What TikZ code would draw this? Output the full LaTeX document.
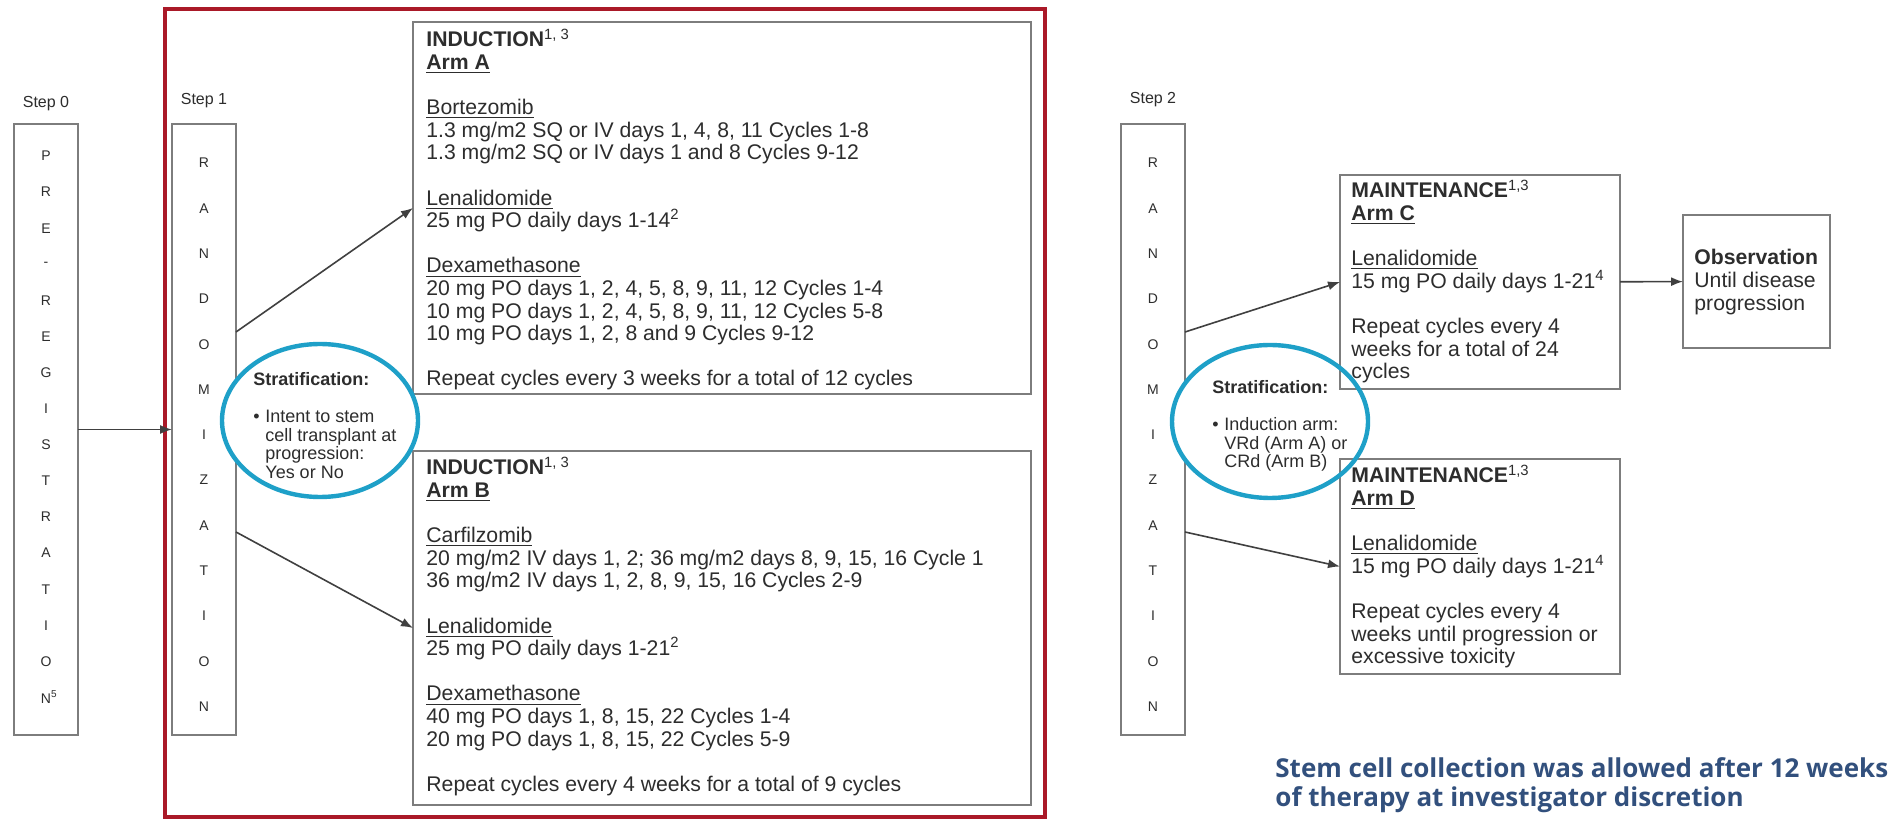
\documentclass[tikz,border=0pt]{standalone}
\usepackage{fontspec}
\setmainfont{Liberation Sans}
\newfontfamily\notefont{Open Sans}
\usetikzlibrary{shapes.geometric,arrows.meta}
\definecolor{framered}{RGB}{170,25,40}
\definecolor{ellcol}{RGB}{30,160,200}
\definecolor{boxgray}{RGB}{125,125,125}
\definecolor{txtcol}{RGB}{45,45,45}
\definecolor{notecol}{RGB}{50,80,125}
\newcommand\bxfont{\fontsize{10.6}{11.3}\selectfont}
\newcommand\stfont{\fontsize{9}{9.25}\selectfont}
\newcommand\bxtext[1]{\parbox[t]{300pt}{\raggedright\bxfont #1}}
\newcommand\sttext[1]{\parbox[t]{80pt}{\raggedright\stfont #1}}
\begin{document}
\begin{tikzpicture}[x=0.5pt,y=-0.5pt,
  box/.style={draw=boxgray, line width=1pt, anchor=north west, inner sep=0pt, outer sep=0pt},
  letter/.style={inner sep=0pt, text=txtcol, font=\fontsize{7}{8}\selectfont},
  steplab/.style={inner sep=0pt, text=txtcol, font=\fontsize{8}{9}\selectfont},
  body/.style={anchor=base west, inner sep=0pt, text=txtcol},
  arr/.style={draw=black!75, line width=0.8pt, -{Latex[length=6pt,width=4.5pt]}},
  ellfill/.style={ellipse, fill=white, inner sep=0pt, minimum width=98pt, minimum height=76.5pt},
  ellline/.style={draw=ellcol, line width=2.2pt}
]
\path[use as bounding box, fill=white] (0,0) rectangle (1888,822);

% red frame
\node[draw=framered, line width=2.3pt, anchor=north west, inner sep=0pt, outer sep=0pt,
  minimum width=440pt, minimum height=404pt] (frame) at (165,9) {};

% step labels
\node[steplab] (lab0) at (46,104) {Step 0};
\node[steplab] (lab1) at (204,101) {Step 1};
\node[steplab] (lab2) at (1153,100) {Step 2};

% step boxes
\node[box, minimum width=32pt, minimum height=305.5pt] (s0) at (14,124) {};
\node[box, minimum width=32pt, minimum height=305.5pt] (s1) at (172,124) {};
\node[box, minimum width=32pt, minimum height=305.5pt] (s2) at (1121,124) {};

\foreach[count=\i] \c in {P,R,E,-,R,E,G,I,S,T,R,A,T,I,O,{N\rlap{\textsuperscript{5}}}}
  \node[letter] (pl\i) at (46,{156+36.1*(\i-1)}) {\c};
\foreach[count=\i] \c in {R,A,N,D,O,M,I,Z,A,T,I,O,N}
  \node[letter] (ra\i) at (204,{163+45.3*(\i-1)}) {\c};
\foreach[count=\i] \c in {R,A,N,D,O,M,I,Z,A,T,I,O,N}
  \node[letter] (rb\i) at (1153,{163+45.3*(\i-1)}) {\c};

% white areas of the stratification ellipses
\node[ellfill] (e1) at (320,420.5) {};
\node[ellfill] (e2) at (1270,421.5) {};

% treatment boxes
\node[box, minimum width=309pt, minimum height=186pt] (A) at (413,22) {};
\node[box, minimum width=309pt, minimum height=177pt] (B) at (413,451) {};
\node[box, minimum width=140pt, minimum height=107pt] (C) at (1340,175) {};
\node[box, minimum width=140pt, minimum height=107.5pt] (D) at (1340,459) {};
\node[box, minimum width=73.5pt, minimum height=66.5pt] (obs) at (1683,215) {};

\node[body] (tA) at (426,47) {\bxtext{\textbf{INDUCTION}\textsuperscript{1, 3}\\
\textbf{\underline{Arm A}}\\
\mbox{}\\
\underline{Bortezomib}\\
1.3 mg/m2 SQ or IV days 1, 4, 8, 11 Cycles 1-8\\
1.3 mg/m2 SQ or IV days 1 and 8 Cycles 9-12\\
\mbox{}\\
\underline{Lenalidomide}\\
25 mg PO daily days 1-14\textsuperscript{2}\\
\mbox{}\\
\underline{Dexamethasone}\\
20 mg PO days 1, 2, 4, 5, 8, 9, 11, 12 Cycles 1-4\\
10 mg PO days 1, 2, 4, 5, 8, 9, 11, 12 Cycles 5-8\\
10 mg PO days 1, 2, 8 and 9 Cycles 9-12\\
\mbox{}\\
Repeat cycles every 3 weeks for a total of 12 cycles}};

\node[body] (tB) at (426,475) {\bxtext{\textbf{INDUCTION}\textsuperscript{1, 3}\\
\textbf{\underline{Arm B}}\\
\mbox{}\\
\underline{Carfilzomib}\\
20 mg/m2 IV days 1, 2; 36 mg/m2 days 8, 9, 15, 16 Cycle 1\\
36 mg/m2 IV days 1, 2, 8, 9, 15, 16 Cycles 2-9\\
\mbox{}\\
\underline{Lenalidomide}\\
25 mg PO daily days 1-21\textsuperscript{2}\\
\mbox{}\\
\underline{Dexamethasone}\\
40 mg PO days 1, 8, 15, 22 Cycles 1-4\\
20 mg PO days 1, 8, 15, 22 Cycles 5-9\\
\mbox{}\\
Repeat cycles every 4 weeks for a total of 9 cycles}};

\node[body] (tC) at (1351,198) {\bxtext{\textbf{MAINTENANCE}\textsuperscript{1,3}\\
\textbf{\underline{Arm C}}\\
\mbox{}\\
\underline{Lenalidomide}\\
15 mg PO daily days 1-21\textsuperscript{4}\\
\mbox{}\\
Repeat cycles every 4\\
weeks for a total of 24\\
cycles}};

\node[body] (tD) at (1351,483) {\bxtext{\textbf{MAINTENANCE}\textsuperscript{1,3}\\
\textbf{\underline{Arm D}}\\
\mbox{}\\
\underline{Lenalidomide}\\
15 mg PO daily days 1-21\textsuperscript{4}\\
\mbox{}\\
Repeat cycles every 4\\
weeks until progression or\\
excessive toxicity}};

\node[body] (tobs) at (1694,265) {\bxtext{\textbf{Observation}\\
Until disease\\
progression}};

% connectors
\draw[arr] (s0) -- (s1);
\draw[arr] ([yshift=48.75pt]s1.east) -- (A.west);
\draw[arr] ([yshift=-51.25pt]s1.east) -- (B.west);
\draw[arr] ([yshift=48.75pt]s2.east) -- (C.west);
\draw[arr] ([yshift=-51.25pt]s2.east) -- (D.west);
\draw[arr] (C) -- (obs);

% stratification ellipses
\draw[ellline] (e1.center) ellipse [x radius=49pt, y radius=38.25pt];
\draw[ellline] (e2.center) ellipse [x radius=49pt, y radius=38.25pt];

\node[body] (st1) at (253,386) {\sttext{\textbf{Stratification:}\\
\mbox{}\\
\makebox[6pt][l]{\textbullet}Intent to stem\\
\hspace*{6pt}cell transplant at\\
\hspace*{6pt}progression:\\
\hspace*{6pt}Yes or No}};

\node[body] (st2) at (1212,394) {\sttext{\textbf{Stratification:}\\
\mbox{}\\
\makebox[6pt][l]{\textbullet}Induction arm:\\
\hspace*{6pt}VRd (Arm A) or\\
\hspace*{6pt}CRd (Arm B)}};

% note
\node[anchor=base west, inner sep=0pt, text=notecol] (note) at (1275,777)
  {\parbox[t]{330pt}{\raggedright\notefont\bfseries\fontsize{13}{14.5}\selectfont
  Stem cell collection was allowed after 12 weeks\\of therapy at investigator discretion}};
\end{tikzpicture}
\end{document}
